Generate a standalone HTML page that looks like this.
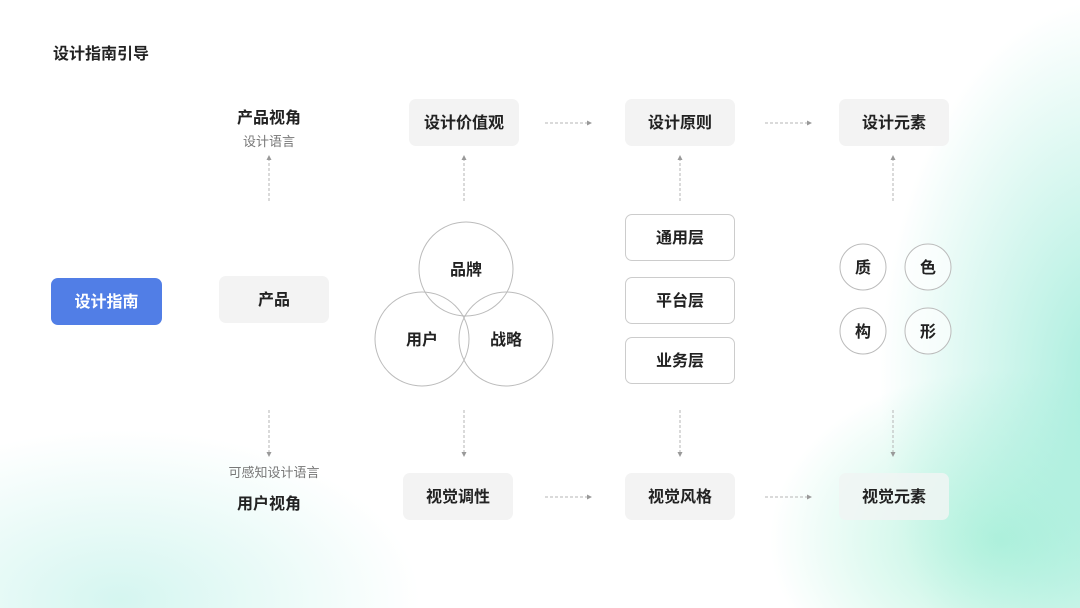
<!DOCTYPE html>
<html><head><meta charset="utf-8"><style>
body{margin:0;width:1080px;height:608px;overflow:hidden;background:#fff;position:relative;font-family:"Liberation Sans","Noto Sans CJK SC",sans-serif;color:#222}
.bg{position:absolute;inset:0;background:
radial-gradient(ellipse 300px 170px at 120px 600px,rgba(195,242,234,.7),rgba(255,255,255,0) 100%),
radial-gradient(ellipse 230px 380px at 1110px 380px,rgba(150,234,214,.85),rgba(255,255,255,0) 100%),
radial-gradient(ellipse 230px 170px at 1000px 540px,rgba(165,240,214,.8),rgba(255,255,255,0) 100%);}
.b{position:absolute;box-sizing:border-box;width:110px;height:47px;padding-bottom:4px;border-radius:7px;background:#f3f3f3;display:flex;align-items:center;justify-content:center;font-size:16px;font-weight:bold;color:#222}
.w{background:#fff;border:1px solid #ccc}
.t{position:absolute;transform:translateX(-50%);white-space:nowrap}
svg{position:absolute;left:0;top:0}
</style></head><body>
<div class="bg"></div>
<div class="t" style="left:101px;top:40px;font-size:16px;font-weight:bold">设计指南引导</div>
<div class="b" style="left:51px;top:278px;width:111px;background:#517ee6;color:#fff">设计指南</div>
<div class="b" style="left:219px;top:276px">产品</div>
<div class="b" style="left:409px;top:99px">设计价值观</div>
<div class="b" style="left:625px;top:99px">设计原则</div>
<div class="b" style="left:839px;top:99px">设计元素</div>
<div class="b" style="left:403px;top:473px">视觉调性</div>
<div class="b" style="left:625px;top:473px">视觉风格</div>
<div class="b" style="left:839px;top:473px;background:rgba(240,245,243,.85)">视觉元素</div>
<div class="b w" style="left:625px;top:214px">通用层</div>
<div class="b w" style="left:625px;top:277px">平台层</div>
<div class="b w" style="left:625px;top:337px">业务层</div>
<div class="t" style="left:269px;top:104px;font-size:16px;font-weight:bold">产品视角</div>
<div class="t" style="left:269px;top:131px;font-size:13px;color:#777">设计语言</div>
<div class="t" style="left:274px;top:462px;font-size:13px;color:#777">可感知设计语言</div>
<div class="t" style="left:269px;top:490px;font-size:16px;font-weight:bold">用户视角</div>
<svg width="1080" height="608">
<defs><marker id="a" markerWidth="5" markerHeight="5" refX="4" refY="2.5" orient="auto" markerUnits="userSpaceOnUse"><path d="M0,0L5,2.5L0,5z" fill="#999"/></marker></defs>
<g stroke="#b5b5b5" stroke-dasharray="3,2" fill="none" marker-end="url(#a)">
<line x1="269" y1="201" x2="269" y2="156"/><line x1="464" y1="201" x2="464" y2="156"/>
<line x1="680" y1="201" x2="680" y2="156"/><line x1="893" y1="201" x2="893" y2="156"/>
<line x1="269" y1="410" x2="269" y2="456"/><line x1="464" y1="410" x2="464" y2="456"/>
<line x1="680" y1="410" x2="680" y2="456"/><line x1="893" y1="410" x2="893" y2="456"/>
<line x1="545" y1="123" x2="591" y2="123"/><line x1="765" y1="123" x2="811" y2="123"/>
<line x1="545" y1="497" x2="591" y2="497"/><line x1="765" y1="497" x2="811" y2="497"/>
</g>
<g fill="none" stroke="#bbb" stroke-width="1">
<circle cx="466" cy="269" r="47"/><circle cx="422" cy="339" r="47"/><circle cx="506" cy="339" r="47"/>
<circle cx="863" cy="267" r="23" fill="rgba(255,255,255,.6)"/><circle cx="928" cy="267" r="23" fill="rgba(255,255,255,.6)"/>
<circle cx="863" cy="331" r="23" fill="rgba(255,255,255,.6)"/><circle cx="928" cy="331" r="23" fill="rgba(255,255,255,.6)"/>
</g>
<g font-family="Liberation Sans, Noto Sans CJK SC, sans-serif" font-size="16" font-weight="bold" fill="#222" text-anchor="middle">
<text x="466" y="275">品牌</text><text x="422" y="345">用户</text><text x="506" y="345">战略</text>
<text x="863" y="273">质</text><text x="928" y="273">色</text><text x="863" y="337">构</text><text x="928" y="337">形</text>
</g>
</svg>
</body></html>
